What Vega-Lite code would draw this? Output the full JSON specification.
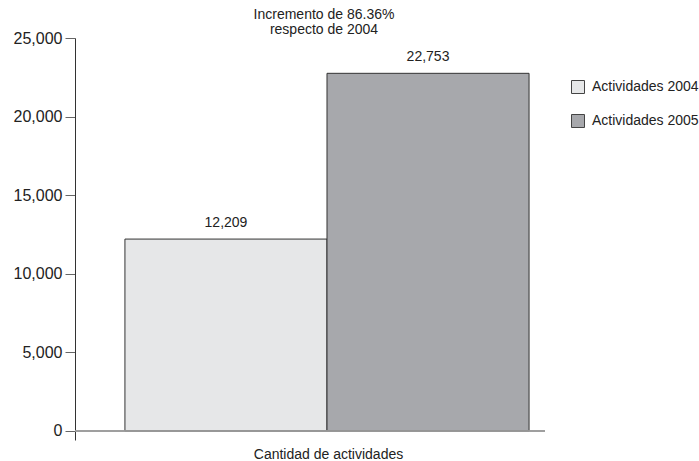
{
  "$schema": "https://vega.github.io/schema/vega-lite/v6.json",
  "width": 470,
  "height": 402,
  "autosize": {"type": "none"},
  "padding": {"left": 75, "top": 38, "right": 154, "bottom": 21},
  "background": "white",
  "config": {
    "font": "Liberation Sans",
    "view": {"stroke": null}
  },
  "title": {
    "text": ["Incremento de 86.36%", "respecto de 2004"],
    "fontSize": 14,
    "fontWeight": "normal",
    "color": "#222",
    "anchor": "middle",
    "dx": 14,
    "offset": -7,
    "lineHeight": 15
  },
  "data": {
    "values": [
      {"serie": "Actividades 2004", "valor": 12209},
      {"serie": "Actividades 2005", "valor": 22753}
    ]
  },
  "encoding": {
    "x": {
      "field": "serie",
      "type": "nominal",
      "sort": null,
      "scale": {"paddingInner": 0, "paddingOuter": 0.163, "align": 0.758},
      "axis": {
        "labels": false,
        "ticks": false,
        "domain": false,
        "title": "Cantidad de actividades",
        "titleFontSize": 14,
        "titleFontWeight": "normal",
        "titleColor": "#222",
        "titlePadding": 7,
        "titleX": 253
      }
    }
  },
  "layer": [
    {
      "mark": {"type": "bar", "stroke": "#333", "strokeWidth": 1},
      "encoding": {
        "y": {
          "field": "valor",
          "type": "quantitative",
          "scale": {"domain": [-573, 25000], "nice": false, "zero": false},
          "axis": {
            "title": null,
            "grid": false,
            "values": [0, 5000, 10000, 15000, 20000, 25000],
            "format": ",.0f",
            "domainColor": "#333",
            "tickColor": "#666",
            "tickSize": 10,
            "labelFontSize": 16,
            "labelColor": "#222",
            "labelPadding": 3
          }
        },
        "color": {
          "field": "serie",
          "type": "nominal",
          "scale": {
            "domain": ["Actividades 2004", "Actividades 2005"],
            "range": ["#e6e7e8", "#a7a8ac"]
          },
          "legend": {
            "title": null,
            "orient": "none",
            "legendX": 496,
            "legendY": 42,
            "symbolType": "square",
            "symbolSize": 169,
            "symbolStrokeColor": "#444",
            "symbolStrokeWidth": 1,
            "labelFontSize": 14,
            "labelColor": "#222",
            "labelOffset": 7,
            "rowPadding": 16
          }
        }
      }
    },
    {
      "mark": {"type": "rule", "color": "#999", "strokeWidth": 1.5},
      "encoding": {"y": {"datum": 0, "type": "quantitative"}, "x": {"value": 0}, "x2": {"value": 470}}
    },
    {
      "mark": {"type": "text", "baseline": "alphabetic", "dy": -12, "fontSize": 14, "color": "#222"},
      "encoding": {
        "y": {"field": "valor", "type": "quantitative"},
        "text": {"field": "valor", "type": "quantitative", "format": ",.0f"}
      }
    }
  ]
}
